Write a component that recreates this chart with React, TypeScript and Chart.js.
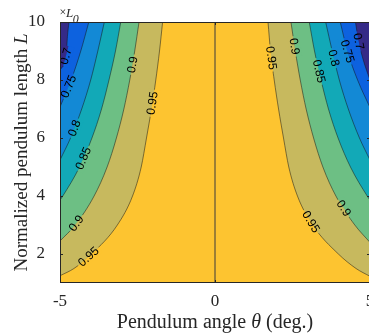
import React, { useEffect, useRef } from 'react';
import { Chart, registerables } from 'chart.js';

Chart.register(...registerables);

// ---- data ----
const levels = [0.7, 0.75, 0.8, 0.85, 0.9, 0.95];
const bandColors = ['#352a87', '#0d62df', '#1389d5', '#12a9b7', '#6dbf84', '#c7b95e', '#fdc430'];
const xTicks = [-5, 0, 5];
const yTicks = [2, 4, 6, 8, 10];

// left side contours: angle theta (deg.) and normalized length L
const left070T = [-5, -4.8, -4.76, -4.71];
const left070L = [8.35, 8.85, 9.5, 10];
const left075T = [-5, -4.64, -4.33, -4.07];
const left075L = [7.07, 8, 9, 10];
const left080T = [-5, -4.66, -4.3, -4.01, -3.78, -3.57];
const left080L = [5.24, 6, 7, 8, 9, 10];
const left085T = [-5, -4.91, -4.37, -3.97, -3.66, -3.42, -3.21, -3.04];
const left085L = [3.86, 4, 5, 6, 7, 8, 9, 10];
const left090T = [-5, -4.51, -3.9, -3.48, -3.18, -2.94, -2.75, -2.59, -2.45];
const left090L = [2.45, 3, 4, 5, 6, 7, 8, 9, 10];
const left095T = [-5, -4.55, -3.98, -3.15, -2.66, -2.38, -2.21, -2.05, -1.91, -1.79, -1.69];
const left095L = [1.25, 1.5, 2, 3, 4, 5, 6, 7, 8, 9, 10];

// right side contours
const right070T = [4.53, 4.63, 4.78, 5];
const right070L = [10, 9.35, 8.7, 8.0];
const right075T = [4.04, 4.27, 4.6, 5];
const right075L = [10, 9, 8, 7.05];
const right080T = [3.57, 3.78, 4.01, 4.3, 4.66, 5];
const right080L = [10, 9, 8, 7, 6, 5.24];
const right085T = [3.04, 3.21, 3.42, 3.66, 3.97, 4.37, 4.91, 5];
const right085L = [10, 9, 8, 7, 6, 5, 4, 3.86];
const right090T = [2.45, 2.59, 2.75, 2.94, 3.18, 3.48, 3.9, 4.51, 5];
const right090L = [10, 9, 8, 7, 6, 5, 4, 3, 2.4];
const right095T = [1.71, 1.79, 1.91, 2.05, 2.21, 2.38, 2.66, 3.15, 3.98, 4.55, 5];
const right095L = [10, 9, 8, 7, 6, 5, 4, 3, 2, 1.5, 1.23];

// where the contour labels sit (value of L along each contour)
const leftLabelL = [[8.82], [7.78], [6.34], [5.3], [3.06, 8.53], [1.91, 7.2]];
const rightLabelL = [[9.33], [8.99], [8.76], [8.3], [9.16, 3.58], [8.76, 3.11]];

const leftT = [left070T, left075T, left080T, left085T, left090T, left095T];
const leftL = [left070L, left075L, left080L, left085L, left090L, left095L];
const rightT = [right070T, right075T, right080T, right085T, right090T, right095T];
const rightL = [right070L, right075L, right080L, right085L, right090L, right095L];

const SERIF = '"Liberation Serif", "Times New Roman", serif';
const SANS = '"Liberation Sans", Arial, sans-serif';
const AXIS = '#262626';

function thetaAt(T: number[], L: number[], l: number): number {
  for (let i = 0; i < L.length - 1; i++) {
    const a = L[i], b = L[i + 1];
    if ((l - a) * (l - b) <= 0 && a !== b) {
      return T[i] + ((l - a) / (b - a)) * (T[i + 1] - T[i]);
    }
  }
  const d0 = Math.abs(l - L[0]), d1 = Math.abs(l - L[L.length - 1]);
  return d0 < d1 ? T[0] : T[T.length - 1];
}

const bgPlugin = {
  id: 'areaBg',
  beforeDraw(chart: any) {
    const { ctx, chartArea: a } = chart;
    ctx.save();
    ctx.fillStyle = bandColors[6];
    ctx.fillRect(a.left, a.top, a.right - a.left, a.bottom - a.top);
    ctx.restore();
  },
};

const labelPlugin = {
  id: 'contourLabels',
  afterDatasetsDraw(chart: any) {
    const { ctx, chartArea: a, scales } = chart;
    const xs = scales.x, ys = scales.y;
    ctx.save();
    ctx.beginPath();
    ctx.rect(a.left, a.top, a.right - a.left, a.bottom - a.top);
    ctx.clip();
    ctx.font = `12px ${SANS}`;
    ctx.textAlign = 'center';
    ctx.textBaseline = 'middle';
    const sides = [
      { T: leftT, L: leftL, at: leftLabelL },
      { T: rightT, L: rightL, at: rightLabelL },
    ];
    for (const s of sides) {
      levels.forEach((lev, k) => {
        const T = s.T[k], L = s.L[k];
        for (const l of s.at[k]) {
          const th = thetaAt(T, L, l);
          const px = xs.getPixelForValue(th), py = ys.getPixelForValue(l);
          const l1 = Math.min(10, l + 0.2), l0 = Math.max(Math.min(...L), l - 0.2);
          const p1x = xs.getPixelForValue(thetaAt(T, L, l1)), p1y = ys.getPixelForValue(l1);
          const p0x = xs.getPixelForValue(thetaAt(T, L, l0)), p0y = ys.getPixelForValue(l0);
          let ang = Math.atan2(p1y - p0y, p1x - p0x);
          if (ang > Math.PI / 2) ang -= Math.PI;
          if (ang <= -Math.PI / 2) ang += Math.PI;
          const text = String(lev);
          const w = ctx.measureText(text).width;
          ctx.save();
          ctx.translate(px, py);
          ctx.rotate(ang);
          ctx.fillStyle = bandColors[k];
          ctx.fillRect(-w / 2 - 2, -6, w + 4, 6.2);
          ctx.fillStyle = bandColors[k + 1];
          ctx.fillRect(-w / 2 - 2, 0, w + 4, 6);
          ctx.fillStyle = '#000';
          ctx.fillText(text, 0, 0.5);
          ctx.restore();
        }
      });
    }
    ctx.restore();
  },
  afterDraw(chart: any) {
    const { ctx, chartArea: a, scales } = chart;
    const xs = scales.x, ys = scales.y;
    ctx.save();
    ctx.strokeStyle = AXIS;
    ctx.lineWidth = 1;
    ctx.strokeRect(a.left + 0.5, a.top + 0.5, a.right - a.left - 1, a.bottom - a.top - 1);
    ctx.beginPath();
    for (const v of yTicks) {
      const y = Math.round(ys.getPixelForValue(v)) + 0.5;
      ctx.moveTo(a.left, y); ctx.lineTo(a.left + 3, y);
      ctx.moveTo(a.right, y); ctx.lineTo(a.right - 3, y);
    }
    for (const v of xTicks) {
      const x = Math.round(xs.getPixelForValue(v)) + 0.5;
      ctx.moveTo(x, a.bottom); ctx.lineTo(x, a.bottom - 3);
      ctx.moveTo(x, a.top); ctx.lineTo(x, a.top + 3);
    }
    ctx.stroke();

    const drawRuns = (runs: { t: string; f: string }[], cx: number, cy: number, rot: number) => {
      ctx.save();
      ctx.translate(cx, cy);
      ctx.rotate(rot);
      let total = 0;
      for (const r of runs) { ctx.font = r.f; total += ctx.measureText(r.t).width; }
      let x = -total / 2;
      ctx.textAlign = 'left';
      ctx.textBaseline = 'alphabetic';
      ctx.fillStyle = AXIS;
      for (const r of runs) {
        ctx.font = r.f;
        ctx.fillText(r.t, x, 0);
        x += ctx.measureText(r.t).width;
      }
      ctx.restore();
    };
    const nx = `20px ${SERIF}`, ix = `italic 20px ${SERIF}`;
    drawRuns([{ t: 'Pendulum angle ', f: nx }, { t: 'θ', f: ix }, { t: ' (deg.)', f: nx }],
      (a.left + a.right) / 2, 328, 0);
    const ny = `19px ${SERIF}`, iy = `italic 19px ${SERIF}`;
    drawRuns([{ t: 'Normalized pendulum length ', f: ny }, { t: 'L', f: iy }],
      26.5, (a.top + a.bottom) / 2, -Math.PI / 2);
    // exponent label ×L0
    ctx.fillStyle = AXIS;
    ctx.textAlign = 'left';
    ctx.textBaseline = 'alphabetic';
    ctx.font = `12px ${SERIF}`;
    ctx.fillText('×', a.left - 0.5, 16);
    ctx.font = `italic 13px ${SERIF}`;
    ctx.fillText('L', a.left + 6, 16.7);
    ctx.font = `italic 12px ${SERIF}`;
    ctx.fillText('0', a.left + 12.7, 22.5);
    ctx.restore();
  },
};

export default function App() {
  const ref = useRef<HTMLCanvasElement | null>(null);
  useEffect(() => {
    document.body.style.margin = '0';
    document.body.style.overflow = 'hidden';
    const canvas = ref.current;
    if (!canvas) return;
    const datasets: any[] = [];
    levels.forEach((lev, k) => {
      const mk = (T: number[], L: number[]) => T.map((t, i) => ({ x: t, y: L[i] }));
      for (const d of [mk(leftT[k], leftL[k]), mk(rightT[k], rightL[k])]) {
        datasets.push({
          label: String(lev),
          data: d,
          borderColor: 'rgba(20,20,20,0.85)',
          borderWidth: 0.6,
          backgroundColor: bandColors[k],
          fill: 'end',
          pointRadius: 0,
          cubicInterpolationMode: 'monotone',
        });
      }
    });
    datasets.push({
      label: 'centre',
      data: [{ x: 0, y: 1 }, { x: 0, y: 10 }],
      borderColor: '#3a3a3a',
      borderWidth: 1,
      fill: false,
      pointRadius: 0,
    });
    const tickFont = { family: SERIF, size: 17 };
    const chart = new Chart(canvas, {
      type: 'line',
      data: { datasets },
      options: {
        animation: false,
        responsive: false,
        devicePixelRatio: 1,
        layout: { padding: { left: 0, top: 22, right: 30, bottom: 0 } },
        plugins: { legend: { display: false }, tooltip: { enabled: false } },
        scales: {
          x: {
            type: 'linear',
            min: -5,
            max: 5,
            grid: { display: false },
            border: { display: false },
            afterBuildTicks: (s: any) => { s.ticks = xTicks.map((v) => ({ value: v })); },
            afterFit: (s: any) => { s.height = 53; },
            ticks: { font: tickFont, color: AXIS, padding: 0, maxRotation: 0, autoSkip: false },
          },
          y: {
            type: 'linear',
            min: 1,
            max: 10,
            grid: { display: false },
            border: { display: false },
            afterBuildTicks: (s: any) => { s.ticks = yTicks.map((v) => ({ value: v })); },
            afterFit: (s: any) => { s.width = 60; },
            ticks: { font: tickFont, color: AXIS, padding: 7, autoSkip: false },
          },
        },
      } as any,
      plugins: [bgPlugin, labelPlugin],
    });
    return () => chart.destroy();
  }, []);
  return (
    <div style={{ width: 369, height: 336, overflow: 'hidden', position: 'relative' }}>
      <canvas ref={ref} width={400} height={336} style={{ display: 'block' }} />
    </div>
  );
}
